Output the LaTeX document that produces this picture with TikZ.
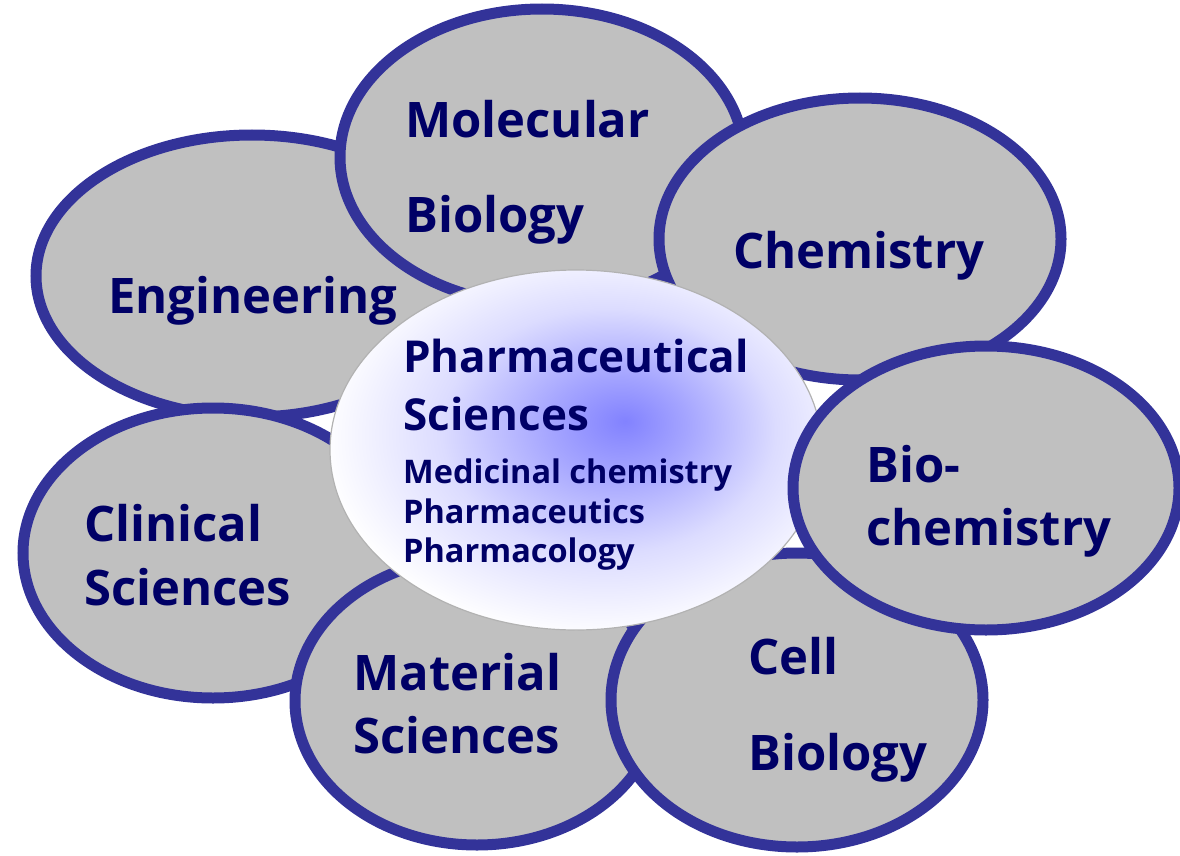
\documentclass[tikz,border=0pt]{standalone}
\usepackage{fontspec}
\setmainfont{Open Sans}
\usepackage{tikz}
\usetikzlibrary{shapes.geometric}
\definecolor{rimblue}{RGB}{51,51,153}
\definecolor{bubblegray}{RGB}{192,192,192}
\definecolor{labelnavy}{RGB}{0,0,102}
\definecolor{glowblue}{RGB}{130,130,255}
\definecolor{coreedge}{RGB}{178,178,178}
\pgfdeclareradialshading{coreglow}{\pgfpoint{5bp}{4bp}}{%
  color(0bp)=(glowblue); color(7bp)=(glowblue!72!white);
  color(17bp)=(glowblue!28!white); color(28bp)=(white); color(50bp)=(white)}
\tikzset{
  bubble/.style={ellipse,draw=rimblue,line width=11pt,fill=bubblegray,inner sep=0pt},
  core/.style={ellipse,draw=coreedge,line width=1.2pt,shading=coreglow,inner sep=0pt},
  biglabel/.style={anchor=base west,inner sep=0pt,text=labelnavy,
    font=\fontsize{49}{49}\selectfont\bfseries},
  midlabel/.style={biglabel,font=\fontsize{44}{44}\selectfont\bfseries},
  smalllabel/.style={biglabel,font=\fontsize{32.5}{32.5}\selectfont\bfseries}
}

\begin{document}
\begin{tikzpicture}[x=1pt,y=-1pt]
  \useasboundingbox (0,0) rectangle (1180,856);
  % outer bubbles, back to front
  \node[bubble,minimum width=432pt,minimum height=282pt] (eng) at (252,276) {};
  \node[bubble,minimum width=380pt,minimum height=290pt] (clinsci) at (213,553) {};
  \node[bubble,minimum width=364pt,minimum height=288pt] (matsci) at (477,701) {};
  \node[bubble,minimum width=404pt,minimum height=296pt] (molbio) at (542,157) {};
  \node[bubble,minimum width=402pt,minimum height=282pt] (chem) at (860,239) {};
  \node[bubble,minimum width=372pt,minimum height=294pt] (cellbio) at (797,700) {};
  \node[core,minimum width=492pt,minimum height=360pt] (pharm) at (576,450) {};
  \node[bubble,minimum width=386pt,minimum height=284pt] (biochem) at (986,488) {};

  % labels
  \node[biglabel] (engtxt) at (108,313) {Engineering};
  \node[biglabel] (moltxt) at (405,137) {Molecular};
  \node[biglabel] (moltxtb) at (405,232) {Biology};
  \node[biglabel] (chemtxt) at (733,268) {Chemistry};
  \node[biglabel] (biotxt) at (866,482) {Bio-};
  \node[biglabel] (biotxtb) at (866,545) {chemistry};
  \node[biglabel] (clintxt) at (84,541) {Clinical};
  \node[biglabel] (clintxtb) at (84,605) {Sciences};
  \node[biglabel] (mattxt) at (353,690) {Material};
  \node[biglabel] (mattxtb) at (353,753) {Sciences};
  \node[biglabel] (celltxt) at (748,674) {Cell};
  \node[biglabel] (celltxtb) at (748,770) {Biology};

  \node[midlabel] (pharmtxt) at (403,372) {Pharmaceutical};
  \node[midlabel] (pharmtxtb) at (403,430) {Sciences};
  \node[smalllabel] (medchem) at (403,483) {Medicinal chemistry};
  \node[smalllabel] (pceutics) at (403,523) {Pharmaceutics};
  \node[smalllabel] (pcology) at (403,562) {Pharmacology};
\end{tikzpicture}
\end{document}
